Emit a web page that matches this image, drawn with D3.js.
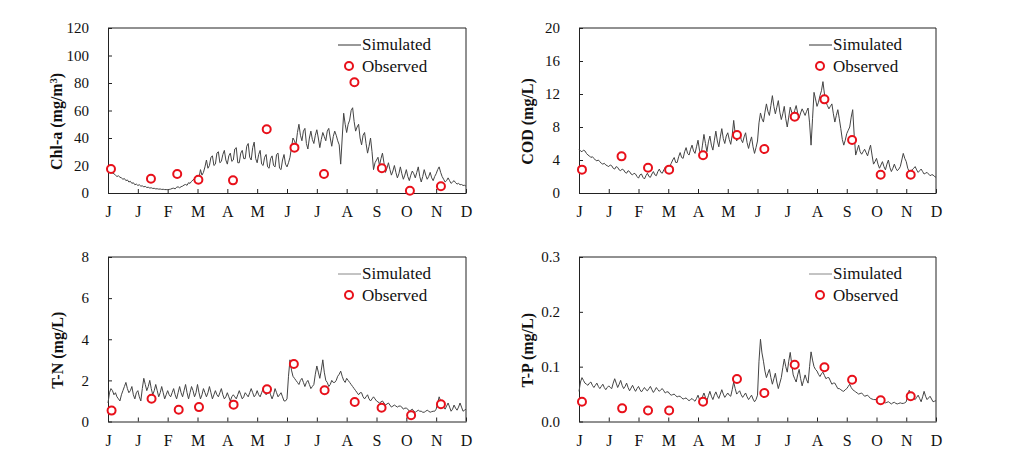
<!DOCTYPE html>
<html>
<head>
<meta charset="utf-8">
<script src="https://cdn.jsdelivr.net/npm/d3@7"></script>
<style>
  body { margin: 0; background: #fff; }
</style>
</head>
<body>
<svg id="chart" width="1015" height="473"></svg>
<script>

// month tick labels (0..12)
var monthLabels = ["J", "J", "F", "M", "A", "M", "J", "J", "A", "S", "O", "N", "D"];

// simulated series, one value every 0.05 month (one row = one month)
var simStep = 0.05;

var chlaSim = [
  18, 16.5, 15, 14.5, 14, 13, 12, 12.5, 11.5, 11, 10, 10.5, 9, 9.5, 8, 8.5, 7, 7.5, 6, 6.5,
  5.5, 6, 5, 5.2, 4.5, 4.8, 4, 4.2, 3.6, 3.8, 3.3, 3.4, 3, 3.1, 2.8, 2.9, 2.6, 2.7, 2.5, 2.5,
  2.4, 2.6, 2.8, 3.3, 3.5, 3.0, 4.2, 4.5, 3.8, 4.6, 5, 5.8, 6.2, 5.6, 7.5, 7, 8.5, 9.5, 10.5, 9,
  12, 11, 17, 13, 15, 19, 24, 18, 20, 26, 27, 20, 21, 29, 30, 22, 23, 28, 31, 24,
  21, 27, 29, 23, 24, 32, 33, 22, 22, 29, 31, 25, 25, 34, 36, 26, 24, 33, 37, 25,
  22, 28, 31, 21, 20, 26, 28, 19, 18, 25, 27, 20, 19, 28, 29, 18, 17, 24, 28, 21,
  19, 22, 26, 33, 40, 38, 35, 44, 50, 42, 38, 45, 47, 36, 32, 40, 45, 39, 36, 42,
  46, 40, 33, 39, 44, 41, 38, 45, 47, 40, 34, 41, 45, 42, 38, 35, 21, 40, 58, 50,
  44, 50, 53, 60, 62, 52, 45, 48, 50, 40, 35, 42, 44, 36, 29, 34, 40, 30, 17, 22,
  24, 26, 20, 25, 29, 22, 15, 18, 22, 17, 13, 16, 20, 15, 11, 14, 19, 14, 10, 13,
  17, 12, 9, 13, 16, 14, 11, 15, 19, 12, 8, 12, 17, 13, 10, 12, 15, 11, 9, 12,
  14, 17, 19, 15, 12, 10, 8, 9, 11, 9, 7, 8, 9, 7.5, 6.5, 7, 6, 6.2, 5.5, 5.6,
  5
];

var codSim = [
  5.3, 5.1, 5.0, 5.2, 5.1, 4.8, 4.6, 4.5, 4.3, 4.4, 4.2, 4.0, 3.9, 4.0, 3.8, 3.6, 3.5, 3.6, 3.4, 3.3,
  3.2, 3.4, 3.3, 3.0, 2.9, 3.2, 3.1, 2.8, 2.7, 2.9, 2.8, 2.5, 2.4, 2.7, 2.6, 2.3, 2.2, 2.4, 2.3, 2.0,
  1.8, 2.2, 2.3, 1.9, 1.7, 2.1, 2.4, 2.0, 1.9, 2.3, 2.6, 2.2, 2.1, 2.6, 2.9, 2.5, 2.4, 2.8, 3.1, 2.7,
  2.7, 3.2, 3.6, 4.0, 4.3, 3.7, 3.7, 4.4, 4.9, 4.3, 4.2, 5.0, 5.5, 4.8, 4.6, 5.3, 5.8, 5.1, 4.8, 5.6,
  6.4, 5.2, 4.5, 5.8, 7.1, 6.0, 5.0, 6.2, 6.9, 5.8, 5.2, 6.4, 7.5, 6.3, 5.6, 6.8, 7.8, 6.6, 6.0, 6.9,
  7.3, 6.5, 5.9, 7.0, 8.8, 7.2, 6.3, 6.9, 7.4, 6.5, 6.1, 6.8, 7.3, 6.1, 5.4, 6.2, 6.8, 5.6, 4.8, 5.5,
  6.3, 8.5, 9.7, 9.0, 8.6, 9.8, 10.8, 9.9, 9.4, 10.6, 11.8, 10.5, 9.6, 10.4, 11.2, 9.8, 8.9, 9.6, 10.5, 9.0,
  8.0, 9.2, 10.4, 9.8, 9.3, 10.0, 10.6, 9.7, 9.1, 9.7, 10.2, 9.8, 9.4, 9.9, 10.3, 8.5, 5.8, 9.0, 12.2, 11.4,
  10.5, 11.0, 11.8, 12.4, 13.5, 12.0, 11.0, 10.6, 10.2, 10.5, 10.8, 9.6, 8.6, 9.4, 10.1, 9.0, 7.8, 6.5, 5.8, 6.4,
  7.2, 7.6, 8.0, 9.2, 10.1, 7.0, 4.6, 5.2, 5.8, 5.0, 4.7, 5.0, 5.3, 4.9, 4.5, 5.2, 5.8, 4.6, 3.5, 3.8,
  4.2, 3.5, 3.0, 3.4, 3.8, 3.2, 2.8, 3.5, 4.0, 3.1, 2.6, 3.0, 3.5, 3.0, 2.7, 2.9, 3.2, 4.0, 4.8, 4.2,
  3.8, 3.0, 2.6, 2.7, 2.8, 3.0, 3.2, 2.8, 2.5, 2.7, 2.9, 2.6, 2.3, 2.4, 2.5, 2.3, 2.1, 2.2, 2.2, 2.0,
  1.9
];

var tnSim = [
  0.9, 1.4, 1.6, 1.5, 1.3, 1.4, 1.2, 1.1, 1.0, 1.3, 1.5, 1.7, 1.9, 1.6, 1.4, 1.5, 1.7, 1.3, 1.1, 1.4,
  1.5, 1.2, 1.0, 1.6, 2.1, 1.8, 1.5, 1.7, 2.0, 1.6, 1.3, 1.5, 1.8, 1.5, 1.2, 1.4, 1.7, 1.4, 1.1, 1.3,
  1.5, 1.3, 1.2, 1.4, 1.6, 1.3, 1.1, 1.4, 1.7, 1.4, 1.2, 1.5, 1.8, 1.4, 1.1, 1.4, 1.7, 1.5, 1.2, 1.4,
  1.8, 1.4, 1.1, 1.3, 1.6, 1.4, 1.2, 1.4, 1.7, 1.4, 1.1, 1.3, 1.5, 1.3, 1.2, 1.4, 1.6, 1.3, 1.1, 1.2,
  1.4, 1.2, 1.0, 1.2, 1.3, 1.2, 1.1, 1.3, 1.5, 1.3, 1.1, 1.2, 1.4, 1.3, 1.2, 1.4, 1.6, 1.4, 1.2, 1.3,
  1.5, 1.3, 1.2, 1.4, 1.6, 1.4, 1.3, 1.4, 1.5, 1.3, 1.1, 1.3, 1.6, 1.4, 1.2, 1.3, 1.4, 1.2, 1.0, 1.0,
  1.1, 2.2, 3.0, 2.5, 2.2, 2.1, 2.0, 1.9, 1.8, 2.0, 2.1, 1.9, 1.7, 1.9, 2.0, 1.8, 1.6, 1.7, 1.8, 2.3,
  2.7, 2.4, 2.1, 2.5, 3.0, 2.4, 2.0, 1.9, 1.7, 1.8, 2.0, 1.9, 1.9, 2.0, 2.2, 2.3, 2.45, 2.2, 2.0, 1.9,
  2.1, 2.0, 1.9, 1.8, 1.7, 1.6, 1.5, 1.4, 1.3, 1.4, 1.4, 1.2, 1.1, 1.2, 1.3, 1.1, 1.0, 1.1, 1.2, 1.1,
  1.0, 0.95, 0.9, 0.95, 1.0, 0.9, 0.8, 0.85, 0.9, 0.8, 0.7, 0.75, 0.8, 0.75, 0.7, 0.75, 0.75, 0.7, 0.6, 0.65,
  0.65, 0.6, 0.5, 0.55, 0.6, 0.5, 0.45, 0.5, 0.55, 0.5, 0.5, 0.45, 0.45, 0.5, 0.55, 0.5, 0.45, 0.48, 0.5, 0.5,
  0.6, 0.9, 1.2, 1.0, 0.8, 0.7, 0.6, 0.75, 0.9, 0.7, 0.5, 0.6, 0.8, 0.65, 0.55, 0.7, 0.9, 0.7, 0.5, 0.55,
  0.6
];

var tpSim = [
  0.055, 0.072, 0.080, 0.075, 0.070, 0.068, 0.066, 0.070, 0.072, 0.066, 0.062, 0.066, 0.070, 0.064, 0.060, 0.064, 0.068, 0.062, 0.058, 0.062,
  0.065, 0.062, 0.060, 0.070, 0.078, 0.070, 0.062, 0.068, 0.075, 0.066, 0.060, 0.064, 0.070, 0.062, 0.056, 0.061, 0.066, 0.060, 0.055, 0.060,
  0.064, 0.058, 0.054, 0.058, 0.062, 0.058, 0.056, 0.060, 0.064, 0.058, 0.053, 0.057, 0.062, 0.058, 0.055, 0.058, 0.060, 0.056, 0.052, 0.054,
  0.054, 0.050, 0.048, 0.049, 0.050, 0.047, 0.045, 0.046, 0.046, 0.043, 0.041, 0.042, 0.043, 0.040, 0.038, 0.040, 0.042, 0.039, 0.037, 0.042,
  0.048, 0.040, 0.036, 0.045, 0.052, 0.044, 0.038, 0.047, 0.055, 0.046, 0.040, 0.048, 0.054, 0.047, 0.042, 0.050, 0.058, 0.050, 0.044, 0.048,
  0.052, 0.048, 0.046, 0.058, 0.072, 0.060, 0.050, 0.053, 0.056, 0.049, 0.044, 0.048, 0.052, 0.045, 0.040, 0.044, 0.048, 0.041, 0.036, 0.040,
  0.048, 0.110, 0.150, 0.125, 0.110, 0.092, 0.080, 0.088, 0.095, 0.080, 0.068, 0.078, 0.088, 0.072, 0.060, 0.070, 0.080, 0.098, 0.114, 0.100,
  0.090, 0.110, 0.126, 0.105, 0.085, 0.078, 0.072, 0.085, 0.095, 0.078, 0.065, 0.075, 0.085, 0.076, 0.070, 0.100, 0.127, 0.112, 0.100, 0.095,
  0.092, 0.086, 0.082, 0.087, 0.090, 0.084, 0.078, 0.080, 0.080, 0.074, 0.068, 0.070, 0.070, 0.065, 0.060, 0.060, 0.058, 0.056, 0.055, 0.058,
  0.060, 0.064, 0.068, 0.062, 0.058, 0.056, 0.054, 0.052, 0.050, 0.051, 0.052, 0.049, 0.046, 0.047, 0.048, 0.045, 0.042, 0.041, 0.040, 0.040,
  0.040, 0.038, 0.036, 0.037, 0.038, 0.036, 0.034, 0.035, 0.036, 0.034, 0.032, 0.034, 0.035, 0.033, 0.032, 0.033, 0.034, 0.033, 0.033, 0.034,
  0.036, 0.048, 0.057, 0.050, 0.045, 0.042, 0.040, 0.044, 0.048, 0.042, 0.036, 0.045, 0.055, 0.046, 0.040, 0.043, 0.046, 0.041, 0.036, 0.037,
  0.038
];

// observed samples (month position, value)
var chlaObsMonth = [0.1, 1.44, 2.32, 3.03, 4.19, 5.32, 6.25, 7.24, 8.26, 9.18, 10.12, 11.16];
var chlaObs      = [17.5, 10.4, 13.8, 9.7, 9.2, 46.3, 33, 13.8, 80.5, 18, 1.7, 4.9];

var codObsMonth = [0.1, 1.43, 2.32, 3.03, 4.17, 5.31, 6.23, 7.25, 8.25, 9.18, 10.14, 11.15];
var codObs      = [2.83, 4.44, 3.07, 2.83, 4.57, 7.03, 5.33, 9.25, 11.35, 6.42, 2.22, 2.22];

var tnObsMonth = [0.12, 1.46, 2.37, 3.05, 4.21, 5.33, 6.23, 7.26, 8.27, 9.17, 10.16, 11.16];
var tnObs      = [0.53, 1.11, 0.57, 0.70, 0.82, 1.57, 2.80, 1.52, 0.95, 0.67, 0.30, 0.84];

var tpObsMonth = [0.1, 1.45, 2.32, 3.03, 4.17, 5.31, 6.23, 7.25, 8.25, 9.18, 10.14, 11.15];
var tpObs      = [0.036, 0.024, 0.020, 0.020, 0.036, 0.0775, 0.052, 0.1036, 0.0988, 0.076, 0.0386, 0.046];

var chlaTicks = [0, 20, 40, 60, 80, 100, 120];
var codTicks = [0, 4, 8, 12, 16, 20];
var tnTicks = [0, 2, 4, 6, 8];
var tpTicks = [0, 0.1, 0.2, 0.3];

var serif = "'Liberation Serif', 'Times New Roman', 'DejaVu Serif', serif";

var panels = [
  { sim: chlaSim, obsX: chlaObsMonth, obsY: chlaObs, ticks: chlaTicks, fmt: d3.format("d"),
    title: "chla", left: 108, top: 28, w: 358, h: 165, titleX: 56, legendLine: "#333" },
  { sim: codSim, obsX: codObsMonth, obsY: codObs, ticks: codTicks, fmt: d3.format("d"),
    title: "COD (mg/L)", left: 579, top: 28, w: 357, h: 165, titleX: 527, legendLine: "#333" },
  { sim: tnSim, obsX: tnObsMonth, obsY: tnObs, ticks: tnTicks, fmt: d3.format("d"),
    title: "T-N  (mg/L)", left: 108, top: 257, w: 358, h: 164.5, titleX: 57, legendLine: "#888" },
  { sim: tpSim, obsX: tpObsMonth, obsY: tpObs, ticks: tpTicks, fmt: d3.format(".1f"),
    title: "T-P  (mg/L)", left: 579, top: 257, w: 357, h: 164.5, titleX: 527, legendLine: "#888" }
];

var svg = d3.select("#chart");

panels.forEach(function(p) {
  var x = d3.scaleLinear().domain([0, 12]).range([0, p.w]);
  var y = d3.scaleLinear().domain([0, p.ticks[p.ticks.length - 1]]).range([p.h, 0]);

  var g = svg.append("g").attr("transform", "translate(" + p.left + "," + p.top + ")");

  // frame (top + right)
  g.append("path")
    .attr("d", "M0,0H" + p.w + "V" + p.h)
    .attr("fill", "none").attr("stroke", "#222").attr("stroke-width", 1);

  var xAxis = d3.axisBottom(x).tickValues(d3.range(0, 13))
    .tickFormat(function(d) { return monthLabels[d]; })
    .tickSizeInner(-4).tickSizeOuter(0).tickPadding(13);
  var gx = g.append("g").attr("transform", "translate(0," + p.h + ")").call(xAxis);
  gx.attr("font-family", serif);
  gx.selectAll("text").style("font-family", serif).style("font-size", "16px").attr("fill", "#111");

  var yAxis = d3.axisLeft(y).tickValues(p.ticks).tickFormat(p.fmt)
    .tickSizeInner(-4).tickSizeOuter(0).tickPadding(19);
  var gy = g.append("g").call(yAxis);
  gy.attr("font-family", serif);
  gy.selectAll("text").style("font-family", serif).style("font-size", "15px").attr("fill", "#111");

  svg.selectAll(".domain").attr("stroke", "#222");
  svg.selectAll(".tick line").attr("stroke", "#222");

  // simulated line
  var line = d3.line()
    .x(function(d, i) { return x(i * simStep); })
    .y(function(d) { return y(d); });
  g.append("path").datum(p.sim)
    .attr("d", line)
    .attr("fill", "none").attr("stroke", "#444").attr("stroke-width", 1);

  // observed circles
  g.selectAll("circle.obs").data(p.obsY).enter().append("circle")
    .attr("class", "obs")
    .attr("cx", function(d, i) { return x(p.obsX[i]); })
    .attr("cy", function(d) { return y(d); })
    .attr("r", 4)
    .attr("fill", "#fff").attr("stroke", "#e8101a").attr("stroke-width", 2);

  // y title
  var t = g.append("text")
    .attr("transform", "translate(" + (p.titleX - p.left) + "," + (p.h / 2 + 11) + ") rotate(-90)")
    .attr("text-anchor", "middle").attr("dy", "0.35em")
    .style("font-family", serif).style("font-size", "16px").style("font-weight", "bold")
    .attr("fill", "#111");
  if (p.title === "chla") {
    t.append("tspan").text("Chl-a  (mg/m");
    t.append("tspan").attr("baseline-shift", "super").style("font-size", "10px").text("3");
    t.append("tspan").text(")");
  } else {
    t.text(p.title);
  }

  // legend
  var lg = g.append("g").attr("transform", "translate(230,0)");
  lg.append("line").attr("x1", 0).attr("x2", 23).attr("y1", 17).attr("y2", 17)
    .attr("stroke", p.legendLine).attr("stroke-width", 1);
  lg.append("text").attr("x", 24).attr("y", 22)
    .style("font-family", serif).style("font-size", "17px").attr("fill", "#111").text("Simulated");
  lg.append("circle").attr("cx", 11).attr("cy", 38).attr("r", 4)
    .attr("fill", "#fff").attr("stroke", "#e8101a").attr("stroke-width", 2);
  lg.append("text").attr("x", 24).attr("y", 44)
    .style("font-family", serif).style("font-size", "17px").attr("fill", "#111").text("Observed");
});

</script>
</body>
</html>
